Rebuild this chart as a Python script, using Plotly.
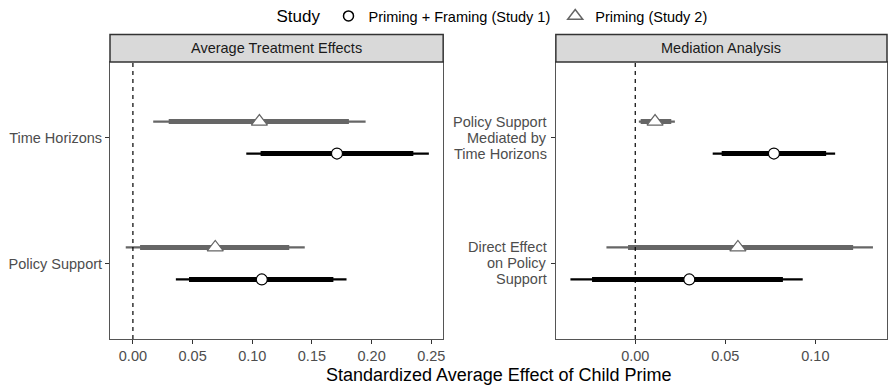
import plotly.graph_objects as go

panels = ["Average Treatment Effects", "Mediation Analysis"]
studies = ["Priming + Framing (Study 1)", "Priming (Study 2)"]
ate_outcomes = ["Policy Support", "Time Horizons"]
med_outcomes = [["Direct Effect", "on Policy", "Support"],
                ["Policy Support", "Mediated by", "Time Horizons"]]

# Average Treatment Effects panel (order: Policy Support, Time Horizons)
ate_s1_est = [0.108, 0.171]
ate_s1_lo95 = [0.036, 0.095]
ate_s1_hi95 = [0.179, 0.248]
ate_s1_lo90 = [0.047, 0.107]
ate_s1_hi90 = [0.168, 0.235]

ate_s2_est = [0.069, 0.106]
ate_s2_lo95 = [-0.006, 0.017]
ate_s2_hi95 = [0.144, 0.195]
ate_s2_lo90 = [0.006, 0.030]
ate_s2_hi90 = [0.131, 0.181]

# Mediation panel (order: Direct Effect, Mediated by Time Horizons)
med_s1_est = [0.030, 0.077]
med_s1_lo95 = [-0.036, 0.043]
med_s1_hi95 = [0.093, 0.111]
med_s1_lo90 = [-0.024, 0.048]
med_s1_hi90 = [0.082, 0.106]

med_s2_est = [0.057, 0.011]
med_s2_lo95 = [-0.016, 0.002]
med_s2_hi95 = [0.132, 0.022]
med_s2_lo90 = [-0.004, 0.003]
med_s2_hi90 = [0.121, 0.020]

ate_ticks = [0.00, 0.05, 0.10, 0.15, 0.20, 0.25]
med_ticks = [0.00, 0.05, 0.10]

colors = {0: "#000000", 1: "#666666"}
symbols = {0: "circle", 1: "triangle-up"}
msize = {0: 11, 1: 14}
dodge = {0: -0.127, 1: 0.127}

fig = go.Figure()

def add_study(xa, ya, k, est, lo95, hi95, lo90, hi90):
    ys = [i + 1 + dodge[k] for i in range(len(est))]
    xt, yt, xk, yk = [], [], [], []
    for i in range(len(est)):
        xt += [lo95[i], hi95[i], None]
        yt += [ys[i], ys[i], None]
        xk += [lo90[i], hi90[i], None]
        yk += [ys[i], ys[i], None]
    fig.add_trace(go.Scatter(x=xt, y=yt, mode="lines", xaxis=xa, yaxis=ya,
                             line=dict(color=colors[k], width=2.3),
                             showlegend=False, hoverinfo="skip"))
    fig.add_trace(go.Scatter(x=xk, y=yk, mode="lines", xaxis=xa, yaxis=ya,
                             line=dict(color=colors[k], width=5),
                             showlegend=False, hoverinfo="skip"))
    fig.add_trace(go.Scatter(x=est, y=ys, mode="markers", xaxis=xa, yaxis=ya,
                             marker=dict(symbol=symbols[k], size=msize[k], color="white",
                                         line=dict(color=colors[k], width=1.2)),
                             showlegend=False))

add_study("x", "y", 1, ate_s2_est, ate_s2_lo95, ate_s2_hi95, ate_s2_lo90, ate_s2_hi90)
add_study("x", "y", 0, ate_s1_est, ate_s1_lo95, ate_s1_hi95, ate_s1_lo90, ate_s1_hi90)
add_study("x2", "y2", 1, med_s2_est, med_s2_lo95, med_s2_hi95, med_s2_lo90, med_s2_hi90)
add_study("x2", "y2", 0, med_s1_est, med_s1_lo95, med_s1_hi95, med_s1_lo90, med_s1_hi90)

# legend entries
for k in (0, 1):
    fig.add_trace(go.Scatter(x=[None], y=[None], mode="markers", name=studies[k],
                             marker=dict(symbol=symbols[k], size=msize[k] - 1, color="white",
                                         line=dict(color=colors[k], width=1.5)),
                             xaxis="x", yaxis="y"))

PH = 277.0  # plot-area height in px, used to convert px offsets to paper units
tickfont = dict(size=14.5, color="#4d4d4d")
axis_common = dict(showline=True, linecolor="#555555", linewidth=1, mirror=True,
                   ticks="outside", ticklen=4, tickcolor="#333333", showgrid=False,
                   zeroline=False, tickfont=tickfont)

dom1 = [0, 0.4288]
dom2 = [0.5738, 1]

fig.update_layout(
    width=889, height=386,
    margin=dict(l=110, r=0, t=62, b=47),
    plot_bgcolor="white", paper_bgcolor="white",
    font=dict(family="Liberation Sans, Arial, sans-serif", color="#000000"),
    xaxis=dict(domain=dom1, range=[-0.0192, 0.260], tickvals=ate_ticks,
               tickformat=".2f", anchor="y", **axis_common),
    yaxis=dict(range=[0.4, 2.6], tickvals=[1, 2], ticktext=ate_outcomes,
               anchor="x", **axis_common),
    xaxis2=dict(domain=dom2, range=[-0.0441, 0.1398], tickvals=med_ticks,
                tickformat=".2f", anchor="y2", **axis_common),
    yaxis2=dict(range=[0.4, 2.6], tickvals=[1, 2], ticktext=["", ""],
                anchor="x2", **axis_common),
    legend=dict(orientation="h", x=0.4936, xanchor="center", y=1 + 46 / PH,
                yanchor="middle",
                title=dict(text="Study", font=dict(size=17)),
                font=dict(size=14.5), itemwidth=30, bgcolor="rgba(0,0,0,0)"),
    showlegend=True,
)

# right-panel multi-line category labels (right aligned)
for i, lines in enumerate(med_outcomes):
    n = len(lines)
    for j, line in enumerate(lines):
        fig.add_annotation(xref="x2 domain", yref="y2", x=0, y=i + 1, text=line,
                           showarrow=False, xanchor="right", yanchor="middle",
                           xshift=-7, yshift=(n - 1) / 2 * 16 - j * 16,
                           font=tickfont)

# dashed zero lines
for xr, yr in (("x", "y domain"), ("x2", "y2 domain")):
    fig.add_shape(type="line", xref=xr, yref=yr, x0=0, x1=0, y0=0, y1=1,
                  line=dict(color="black", width=1.2, dash="4px,4px"))

# strip headers
strip_h = 27.5 / PH
for dom, title in ((dom1, panels[0]), (dom2, panels[1])):
    fig.add_shape(type="rect", xref="paper", yref="paper", x0=dom[0], x1=dom[1],
                  y0=1, y1=1 + strip_h, fillcolor="#d9d9d9",
                  line=dict(color="#333333", width=1.5))
    fig.add_annotation(xref="paper", yref="paper", x=(dom[0] + dom[1]) / 2,
                       y=1 + strip_h / 2, text=title, showarrow=False,
                       xanchor="center", yanchor="middle",
                       font=dict(size=14.5, color="#1a1a1a"))

fig.add_annotation(xref="paper", yref="paper", x=0.5, y=-36 / PH, yanchor="middle",
                   xanchor="center",
                   text="Standardized Average Effect of Child Prime", showarrow=False,
                   font=dict(size=18, color="black"))

fig.write_html("out.html", config={"displayModeBar": False},
               post_script="document.body.style.margin='0';document.body.style.overflow='hidden';")
